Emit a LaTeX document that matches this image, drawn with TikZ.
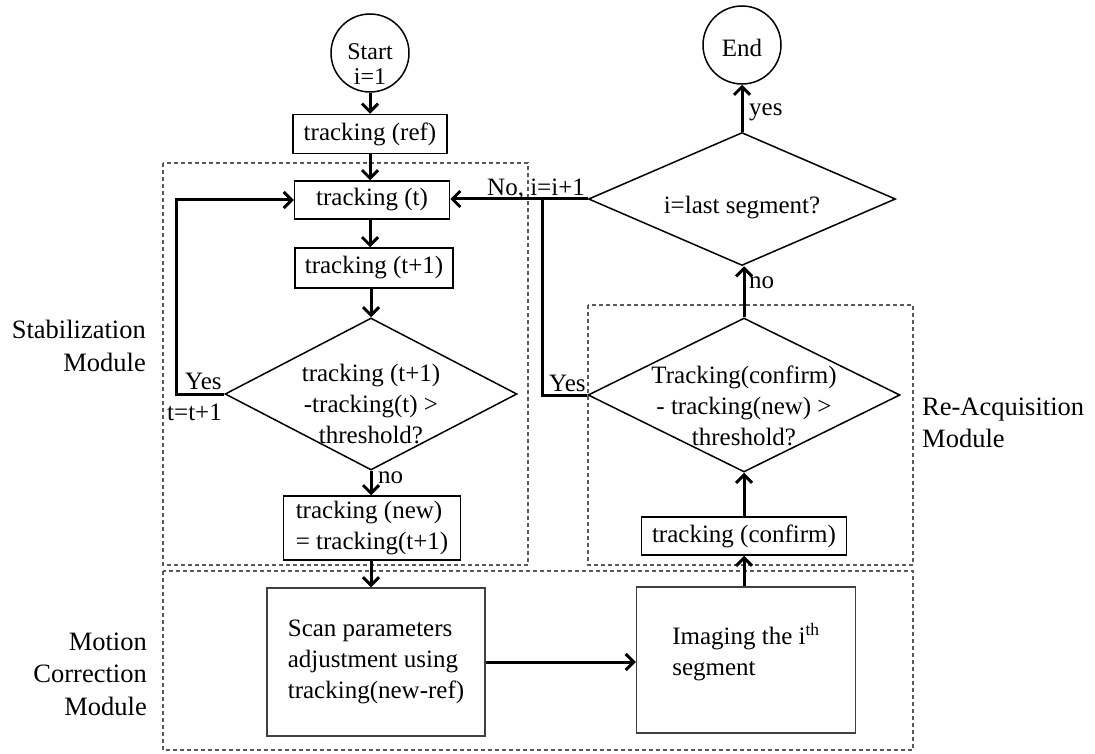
\documentclass[tikz,border=0pt]{standalone}
\usepackage{fontspec}
\setmainfont{Liberation Serif}
\usetikzlibrary{arrows.meta,shapes.geometric}
\begin{document}
\begin{tikzpicture}[x=1pt,y=-1pt,
  txt/.style={font=\fontsize{25}{31}\selectfont},
  box/.style={txt, draw, line width=1.5pt, inner sep=3pt, align=center},
  bigbox/.style={txt, draw=black!75, line width=1.4pt, inner sep=3pt, align=left},
  term/.style={circle, draw, line width=1.5pt, minimum size=78pt, inner sep=0pt},
  dia/.style={diamond, draw, line width=1.5pt, inner sep=0pt},
  flow/.style={line width=3pt, -{Straight Barb[length=8pt,width=16pt]}},
  plain/.style={line width=3pt},
  module/.style={draw=black!65, line width=1.1pt, dash pattern=on 4pt off 3pt},
  lbl/.style={txt, inner sep=0pt},
  modname/.style={inner sep=0pt, font=\fontsize{26.5}{32.5}\selectfont}
]
\useasboundingbox (0,0) rectangle (1095,754);

% module frames
\draw[module] (163,163) rectangle (528,565);
\draw[module] (588,305) rectangle (913,565);
\draw[module] (163,571) rectangle (913,750);

% module names
\node[modname, align=right, anchor=east] (mstab) at (146,346) {Stabilization\\Module};
\node[modname, align=right, anchor=east] (mmot) at (147,674) {Motion\\Correction\\Module};
\node[modname, align=left, anchor=west] (mreac) at (922,423) {Re-Acquisition\\Module};

% left column
\node[term] (start) at (370,53) {};
\node[inner sep=0pt, font=\fontsize{24}{24}\selectfont, anchor=base] (starttxt) at (370,60) {Start};
\node[inner sep=0pt, font=\fontsize{24}{24}\selectfont, anchor=base] (itxt) at (370,85) {i=1};
\node[box, minimum width=154pt, minimum height=39pt] (ref) at (370,134) {tracking (ref)};
\node[box, minimum width=155pt, minimum height=38pt] (t) at (372,200) {tracking (t)};
\node[box, minimum width=158pt, minimum height=40pt] (t1) at (374,268) {tracking (t+1)};
\node[dia, minimum width=292pt, minimum height=152pt,
      label={[txt, align=center, yshift=-10pt]center:tracking (t+1)\\-tracking(t) >\\threshold?}] (d1) at (371,394) {};
\node[box, align=left, minimum width=177pt, minimum height=64pt] (new) at (372,528) {tracking (new)\\= tracking(t+1)};

% motion correction
\node[bigbox, minimum width=218pt, minimum height=148pt] (scan) at (376,662) {Scan parameters\\adjustment using\\tracking(new-ref)};
\node[bigbox, minimum width=219pt, minimum height=146pt,
      label={[txt, align=left, yshift=8pt]center:Imaging the i\textsuperscript{th}\\segment}] (img) at (746,660) {};

% right column
\node[box, minimum width=205pt, minimum height=38pt] (conf) at (744,536) {tracking (confirm)};
\node[dia, minimum width=312pt, minimum height=154pt,
      label={[txt, align=center, yshift=-11pt]center:Tracking(confirm)\\- tracking(new) >\\threshold?}] (d2) at (744,395) {};
\node[dia, minimum width=307pt, minimum height=133pt,
      label={[txt, yshift=-9pt]center:i=last segment?}] (d3) at (742,199) {};
\node[term, label={[txt, yshift=-3pt]center:End}] (end) at (742,45) {};

% routing points
\coordinate (loopx) at (176,0);
\coordinate (join) at (542,199);

% main flow
\draw[flow] (start.south) -- (start.south |- ref.north);
\draw[flow] (ref.south) -- (ref.south |- t.north);
\draw[flow] (t.south -| ref.south) -- (ref.south |- t1.north);
\draw[flow] (t1.south -| d1.north) -- (d1.north);
\draw[flow] (d1.south) -- (d1.south |- new.north);
\draw[flow] (new.south -| d1.south) -- (d1.south |- scan.north);
\draw[flow] (scan.east) -- (scan.east -| img.west);
\draw[flow] (img.north -| conf.south) -- (conf.south);
\draw[flow] (conf.north -| d2.south) -- (d2.south);
\draw[flow] (d2.north) -- (d2.north |- d3.south);
\draw[flow] (d3.north) -- (d3.north |- end.south);

% loops back
\draw[flow] (d1.west) -- (d1.west -| loopx) |- (t.west);
\draw[flow] (d3.west) -- (t.east |- d3.west);
\draw[plain] (d2.west) -- (d2.west -| join) -- (join);

% branch labels
\node[lbl, anchor=west] (yes3) at (749,112) {yes};
\node[lbl, anchor=west] (no2) at (749,283) {no};
\node[lbl, anchor=west] (no1) at (378,478) {no};
\node[lbl, anchor=base west] (no3) at (487,196) {No, i=i+1};
\node[lbl, anchor=base west] (yes1) at (185,389) {Yes};
\node[lbl, anchor=base west] (tinc) at (167,420) {t=t+1};
\node[lbl, anchor=base west] (yes2) at (549,391) {Yes};
\end{tikzpicture}
\end{document}
